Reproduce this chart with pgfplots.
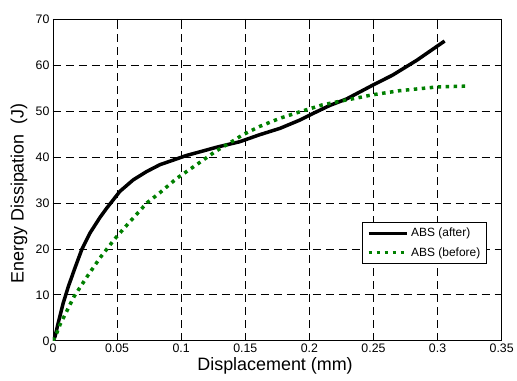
\documentclass[border=0pt]{standalone}
\usepackage{pgfplots}
\pgfplotsset{compat=1.18}
\usepackage{fontspec}
\setmainfont{Liberation Sans}
\definecolor{mgreen}{RGB}{0,128,0}
\begin{document}
\begin{tikzpicture}
\begin{axis}[
  scale only axis,
  width=449bp, height=322bp,
  xmin=0, xmax=0.35, ymin=0, ymax=70,
  xtick={0,0.05,...,0.35},
  xticklabels={0,0.05,0.1,0.15,0.2,0.25,0.3,0.35},
  ytick={0,10,...,70},
  /pgf/number format/assume math mode=true,
  tick label style={font=\fontsize{12.4}{14}\selectfont},
  tick align=inside,
  major tick length=5bp,
  tick style={black, line width=0.6bp},
  axis line style={black, line width=0.9bp},
  grid=major,
  major grid style={black, line width=0.6bp, dash pattern=on 8bp off 5bp},
  xlabel={Displacement (mm)},
  ylabel={Energy Dissipation\ \ (J)},
  xlabel style={font=\fontsize{18}{20}\selectfont, at={(axis description cs:0.495,-0.078)}, anchor=center},
  ylabel style={font=\fontsize{18}{20}\selectfont, at={(axis description cs:-0.0757,0.458)}, anchor=center},
  legend style={at={(axis description cs:0.9666,0.3696)}, anchor=north east,
    draw=black, line width=0.8bp, font=\fontsize{12}{14}\selectfont,
    inner xsep=4bp, inner ysep=4bp, row sep=5bp, fill=white},
  legend cell align=left,
  legend image code/.code={\draw[#1] (0bp,0bp) -- (39bp,0bp);},
]
\addplot[black, line width=3.5bp, line join=round] coordinates {
(0,0) (0.0016,0.9) (0.0041,3.9) (0.008,8.2) (0.012,11.8) (0.0171,15.8)
(0.0224,19.8) (0.0288,23.4) (0.0366,26.8) (0.0418,28.8) (0.0522,32.5)
(0.0626,35) (0.073,36.8) (0.0834,38.3) (0.0938,39.3) (0.104,40.3) (0.1146,41.1)
(0.1276,42.1) (0.1457,43.3) (0.161,44.8) (0.177,46.2) (0.1925,48) (0.2055,49.8)
(0.216,51.2) (0.229,52.6) (0.2494,55.6) (0.265,57.8) (0.2837,61) (0.3055,65.2)
};
\addlegendentry{ABS (after)}
\addplot[mgreen, line width=3.5bp, dash pattern=on 3.5bp off 4.5bp] coordinates {
(0,0) (0.003,1.7) (0.0055,3.5) (0.0164,9.6) (0.0265,13.9) (0.0366,18)
(0.0483,22.2) (0.06,25.9) (0.0733,30) (0.0834,32.2) (0.0964,35.3) (0.112,38.3)
(0.1263,41.1) (0.14,43.4) (0.148,44.8) (0.161,46.6) (0.177,48.4) (0.1925,49.8)
(0.21,51.3) (0.2237,52.1) (0.237,52.8) (0.249,53.5) (0.2705,54.4) (0.299,55.2) (0.3235,55.4)
};
\addlegendentry{ABS (before)}
\end{axis}
\path (current axis.south west) ++(-53bp,-40bp) coordinate (bbA);
\path (current axis.north east) ++(15bp,19bp) coordinate (bbB);
\useasboundingbox (bbA) rectangle (bbB);
\end{tikzpicture}
\end{document}
